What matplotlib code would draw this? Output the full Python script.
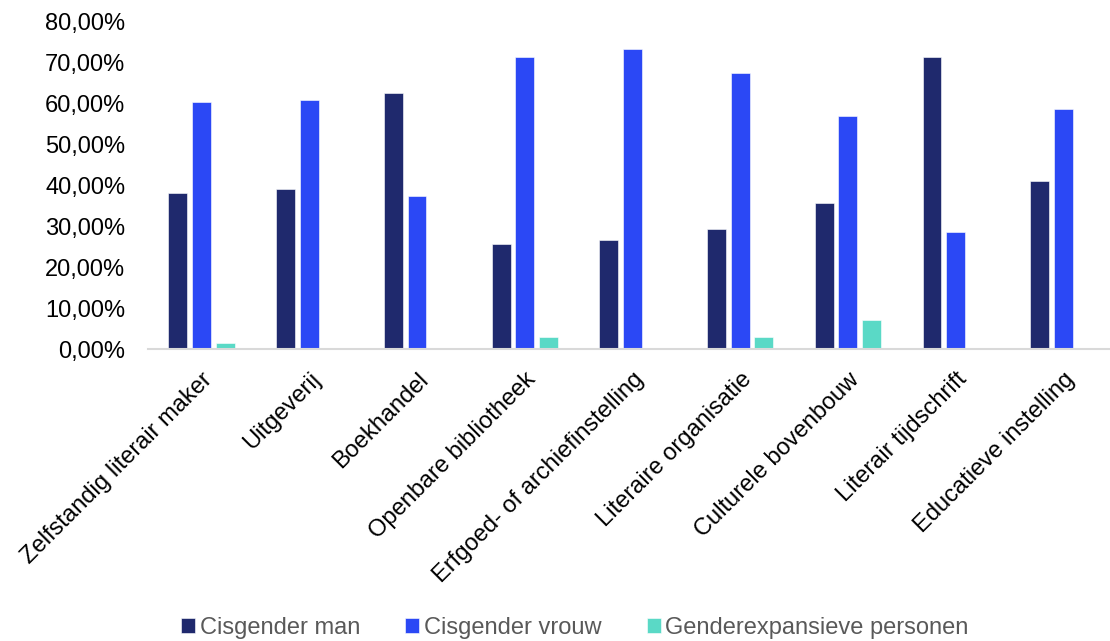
import matplotlib
matplotlib.use('Agg')
import matplotlib.pyplot as plt
import numpy as np

plt.rcParams['font.family'] = ['Liberation Sans', 'DejaVu Sans']

categories = ['Zelfstandig literair maker', 'Uitgeverij', 'Boekhandel',
              'Openbare bibliotheek', 'Erfgoed- of archiefinstelling',
              'Literaire organisatie', 'Culturele bovenbouw',
              'Literair tijdschrift', 'Educatieve instelling']
man = [38.1, 39.1, 62.5, 25.7, 26.6, 29.3, 35.7, 71.5, 41.1]
vrouw = [60.4, 60.8, 37.5, 71.5, 73.3, 67.6, 57.0, 28.5, 58.8]
genderexp = [1.4, 0, 0, 2.9, 0, 2.9, 7.1, 0, 0]
series_names = ['Cisgender man', 'Cisgender vrouw', 'Genderexpansieve personen']
colors = ['#1F296D', '#2B48F5', '#5AD9C6']

fig = plt.figure(figsize=(11.1, 6.41), dpi=100)
ax = fig.add_axes([0.133, 0.4555, 0.867, 0.5105])

x = np.arange(len(categories))
w = 0.176
step = 0.22
for i, (vals, name, c) in enumerate(zip([man, vrouw, genderexp], series_names, colors)):
    ax.bar(x + (i - 1) * step, vals, width=w, color=c, label=name,
           edgecolor='white', linewidth=0.4)

ax.set_xlim(-0.5, 8.432)
ax.set_ylim(0, 80)
yt = np.arange(0, 81, 10)
ax.set_yticks(yt)
ax.set_yticklabels([('%.2f%%' % v).replace('.', ',') for v in yt], fontsize=17)
ax.set_xticks(x)
ax.set_xticklabels(categories, fontsize=17, rotation=45, ha='right',
                   rotation_mode='anchor')
ax.tick_params(axis='both', length=0)
ax.tick_params(axis='y', pad=16)
ax.tick_params(axis='x', pad=14)

for s in ['top', 'right', 'left']:
    ax.spines[s].set_visible(False)
ax.spines['bottom'].set_color('#D9D9D9')
ax.spines['bottom'].set_linewidth(1.5)

leg = fig.legend(loc='center', bbox_to_anchor=(0.518, 0.02), ncol=3,
                 frameon=False, fontsize=17, handlelength=0.6, handleheight=0.6,
                 handletextpad=0.2, columnspacing=1.9, borderaxespad=0)
for t in leg.get_texts():
    t.set_color('#595959')

fig.savefig('out.png', dpi=100)
